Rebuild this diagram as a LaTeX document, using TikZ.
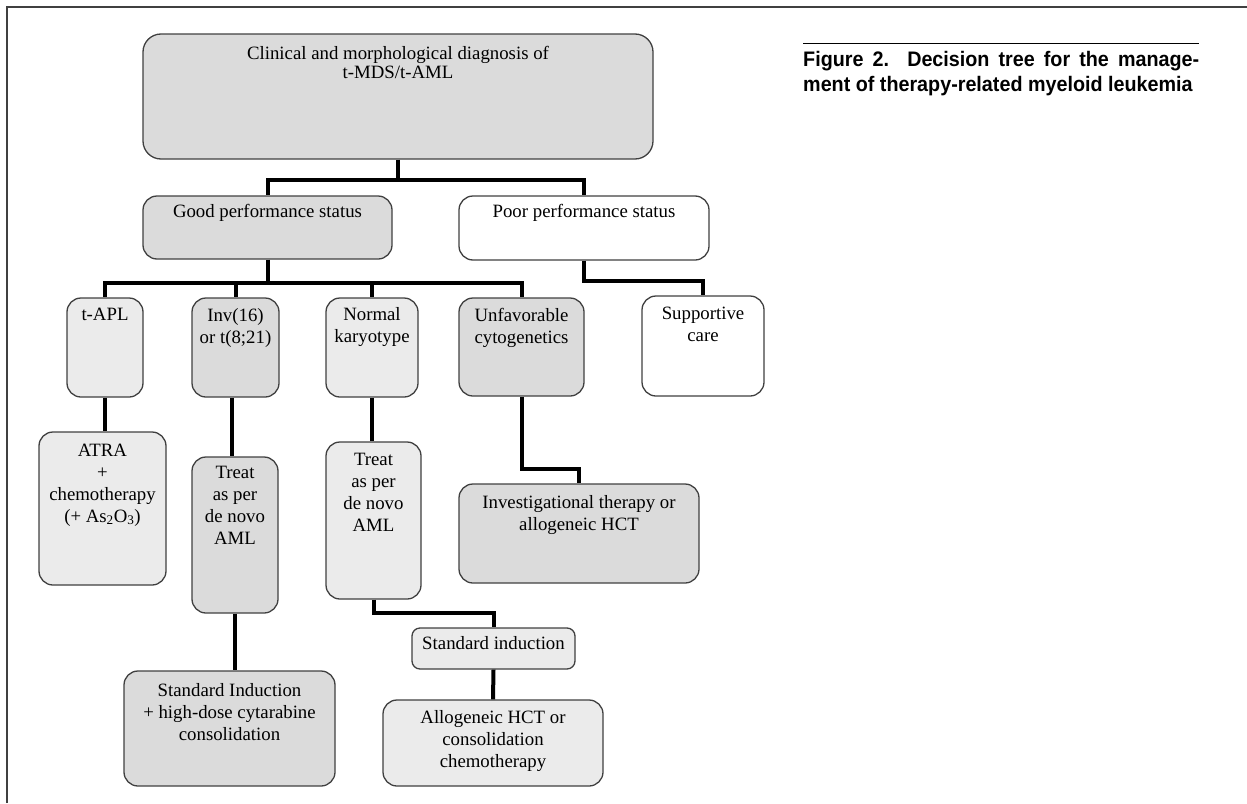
\documentclass[tikz,border=0pt]{standalone}
\usepackage{fontspec}
\setmainfont{Liberation Serif}
\newfontfamily\capfont[FakeStretch=0.94]{Liberation Sans}
\usepackage{tikz}
\definecolor{boxdark}{gray}{0.86}
\definecolor{boxlight}{gray}{0.92}
\definecolor{boxline}{gray}{0.25}
\tikzset{
  box/.style={draw=boxline, line width=1.3pt, rounded corners=14pt, inner sep=0pt},
  darkbox/.style={box, fill=boxdark},
  lightbox/.style={box, fill=boxlight},
  whitebox/.style={box, fill=white},
  lbl/.style={font=\fontsize{18.8}{22}\selectfont, align=center, inner sep=0pt, anchor=base},
  link/.style={line width=4pt},
}

\begin{document}
\begin{tikzpicture}[x=1pt, y=-1pt]
      \useasboundingbox (0,0) rectangle (1247,803);
      % frame
      \draw[boxline, line width=1.3pt] (7,803) -- (7,7) -- (1247,7);
      % boxes
      \node[darkbox, rounded corners=18pt, minimum width=510pt, minimum height=125pt] (root) at (398,96.5) {};
      \node[darkbox, minimum width=249pt, minimum height=63pt] (good) at (267.5,227.5) {};
      \node[whitebox, minimum width=250pt, minimum height=64pt] (poor) at (584,228) {};
      \node[lightbox, minimum width=76pt, minimum height=99pt] (apl) at (105,347.5) {};
      \node[darkbox, minimum width=87pt, minimum height=99pt] (inv) at (235.5,347.5) {};
      \node[lightbox, minimum width=92pt, minimum height=99pt] (norm) at (372,347.5) {};
      \node[darkbox, minimum width=125pt, minimum height=98pt] (unfav) at (521.5,347) {};
      \node[whitebox, minimum width=122pt, minimum height=100pt] (supp) at (703,346) {};
      \node[lightbox, minimum width=127pt, minimum height=153pt] (atra) at (102.5,508.5) {};
      \node[darkbox, minimum width=86pt, minimum height=156pt] (invT) at (235,535) {};
      \node[lightbox, minimum width=95pt, minimum height=157pt] (normT) at (373.5,520.5) {};
      \node[darkbox, minimum width=240pt, minimum height=99pt] (invest) at (579,533.5) {};
      \node[lightbox, rounded corners=8pt, minimum width=163pt, minimum height=41pt] (stdi) at (493.5,648.5) {};
      \node[lightbox, minimum width=220pt, minimum height=86pt] (allo) at (493,743) {};
      \node[darkbox, minimum width=211pt, minimum height=115pt] (hd) at (229.5,728.5) {};
      % box texts (base = last line)
      \node[lbl, font=\fontsize{18.8}{19.5}\selectfont] (rootT) at (398,78.5) {Clinical and morphological diagnosis of\\t-MDS/t-AML};
      \node[lbl] (goodT) at (267.5,217) {Good performance status};
      \node[lbl] (poorT) at (584,217) {Poor performance status};
      \node[lbl] (aplT) at (105,320) {t-APL};
      \node[lbl] (invTx) at (235.5,343) {Inv(16)\\or t(8;21)};
      \node[lbl] (normTx) at (372,342) {Normal\\karyotype};
      \node[lbl] (unfavT) at (521.5,343) {Unfavorable\\cytogenetics};
      \node[lbl] (suppT) at (703,341) {Supportive\\care};
      \node[lbl] (atraT) at (102.5,522) {ATRA\\+\\chemotherapy\\(+ As\textsubscript{2}O\textsubscript{3})};
      \node[lbl] (invTT) at (235,544) {Treat\\as per\\de novo\\AML};
      \node[lbl] (normTT) at (373.5,531) {Treat\\as per\\de novo\\AML};
      \node[lbl] (investT) at (579,530) {Investigational therapy or\\allogeneic HCT};
      \node[lbl] (stdiT) at (493.5,649) {Standard induction};
      \node[lbl] (alloT) at (493,767) {Allogeneic HCT or\\consolidation\\chemotherapy};
      \node[lbl] (hdT) at (229.5,740) {Standard Induction\\+ high-dose cytarabine\\consolidation};
      % forks
      \coordinate (fork1) at (398,180);
      \coordinate (fork2) at (267.5,283);
      \coordinate (fork3) at (584,281);
      \coordinate (fork4) at (521.5,469);
      \coordinate (fork5) at (373.5,613);
      \coordinate (invDrop) at ([xshift=-4pt]inv.south);
      % tree edges
      \draw[link] (root.south) -- (fork1) -| (good.north);
      \draw[link] (fork1) -| (poor.north);
      \draw[link] (good.south) -- (fork2) -| (apl.north);
      \draw[link] (fork2) -| (inv.north);
      \draw[link] (fork2) -| (norm.north);
      \draw[link] (fork2) -| (unfav.north);
      \draw[link] (poor.south) -- (fork3) -| (supp.north);
      \draw[link] (apl.south) -- (apl.south |- atra.north);
      \draw[link] (invDrop) -- (invDrop |- invT.north);
      \draw[link] (invT.south) -- (invT.south |- hd.north);
      \draw[link] (norm.south) -- (norm.south |- normT.north);
      \draw[link] (normT.south) -- (fork5) -| (stdi.north);
      \draw[link] (stdi.south) -- (allo.north);
      \draw[link] (unfav.south) -- (fork4) -| (invest.north);
      % caption
      \node[anchor=base west, text width=396pt, align=justify, inner sep=0pt,
            font=\capfont\bfseries\fontsize{21}{25}\selectfont] (fig) at (803,66)
            {Figure 2.\ \ Decision tree for the manage-\linebreak ment of therapy-related myeloid leukemia};
      \draw[line width=1pt] ([yshift=23pt]fig.base west) -- ([yshift=23pt]fig.base east);
    \end{tikzpicture}
\end{document}
